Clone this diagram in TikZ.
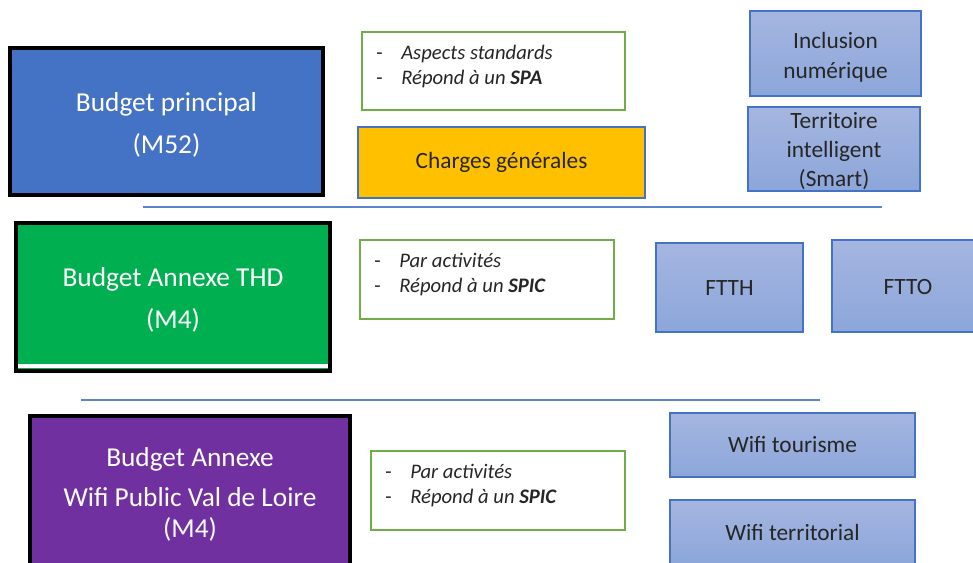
\documentclass[tikz,border=0pt]{standalone}
\usepackage{fontspec}
\setmainfont{Carlito}
\definecolor{bpblue}{HTML}{4472C4}
\definecolor{thdgreen}{HTML}{00B050}
\definecolor{wifipurple}{HTML}{7030A0}
\definecolor{boxgreen}{HTML}{70AD47}
\definecolor{chgold}{HTML}{FFC000}
\definecolor{lbtop}{HTML}{A5B6E0}
\definecolor{lbbot}{HTML}{8CA6DA}
\definecolor{txtdark}{HTML}{262626}
\definecolor{sepblue}{HTML}{5B84CC}
\tikzset{
  budget/.style={draw=black, line width=2.4pt},
  budgettext/.style={text=white, align=center, inner sep=0pt,
    font=\fontsize{20.5}{31.5}\selectfont},
  infobox/.style={draw=boxgreen, line width=1.8pt, fill=white},
  infotext/.style={anchor=north west, inner sep=0pt, text=txtdark,
    font=\fontsize{15.5}{18.75}\selectfont},
  lightbox/.style={draw=bpblue, line width=1.8pt, top color=lbtop, bottom color=lbbot},
  lighttext/.style={text=txtdark, align=center, inner sep=0pt,
    font=\fontsize{17.5}{22.5}\selectfont},
  chbox/.style={draw=bpblue, line width=1.8pt, fill=chgold, text=txtdark,
    font=\fontsize{17.5}{20}\selectfont},
  sepline/.style={draw=sepblue, line width=2pt}
}
\begin{document}
\begin{tikzpicture}[x=0.75pt, y=-0.75pt]
\path[use as bounding box] (0,0) rectangle (973,563);
\clip (0,0) rectangle (973,563);
% Budget principal row
\node[budget, fill=bpblue, minimum width=234.75pt, minimum height=110.25pt] (bp) at (166.5,121.5) {};
\node[budgettext] (bpt) at (166.5,124.5) {Budget principal\\(M52)};
\node[infobox, minimum width=197.25pt, minimum height=58.5pt] (g1) at (493.5,71) {};
\node[infotext] (g1t) at (376,42) {\begin{tabular}{@{}l@{\hspace{14pt}}l@{}}-&\textit{Aspects standards}\\-&\textit{Répond à un \textbf{SPA}}\end{tabular}};
\node[chbox, minimum width=215.25pt, minimum height=53.25pt] (cg) at (501.5,162.5) {Charges générales};
\node[lightbox, minimum width=128.25pt, minimum height=63.75pt] (inc) at (835.5,53.5) {};
\node[lighttext] (inct) at (835.5,57) {Inclusion\\numérique};
\node[lightbox, minimum width=129pt, minimum height=63pt] (ter) at (834,149) {};
\node[lighttext, font=\fontsize{17.5}{21.75}\selectfont] (tert) at (834,151) {Territoire\\intelligent\\(Smart)};
\coordinate (l1a) at (143,207);
\coordinate (l1b) at (882,207);
\draw[sepline] (l1a) -- (l1b);
% THD row
\node[budget, fill=thdgreen, minimum width=235.5pt, minimum height=111pt] (thd) at (173,297) {};
\fill[white] (18,364) rectangle (328,368);
\node[budgettext] (thdt) at (173,300) {Budget Annexe THD\\(M4)};
\node[infobox, minimum width=190.5pt, minimum height=59.25pt] (g2) at (487,279.5) {};
\node[infotext] (g2t) at (374,250) {\begin{tabular}{@{}l@{\hspace{14pt}}l@{}}-&\textit{Par activités}\\-&\textit{Répond à un \textbf{SPIC}}\end{tabular}};
\node[lightbox, minimum width=110.25pt, minimum height=66.75pt] (ftth) at (729.5,287.5) {};
\node[lighttext] (ftht) at (729.5,288) {FTTH};
\node[lightbox, minimum width=114.75pt, minimum height=69pt] (ftto) at (908.5,286) {};
\node[lighttext] (fttot) at (908,287) {FTTO};
\coordinate (l2a) at (81,400);
\coordinate (l2b) at (820,400);
\draw[sepline] (l2a) -- (l2b);
% Wifi row
\node[budget, fill=wifipurple, minimum width=240pt, minimum height=112.5pt] (wifi) at (190,491) {};
\node[budgettext, font=\fontsize{20.5}{23.25}\selectfont] (wifit) at (190,494) {Budget Annexe\\[6.75pt]Wifi Public Val de Loire\\(M4)};
\node[infobox, minimum width=190.5pt, minimum height=59.25pt] (g3) at (498,490.5) {};
\node[infotext] (g3t) at (385,461) {\begin{tabular}{@{}l@{\hspace{14pt}}l@{}}-&\textit{Par activités}\\-&\textit{Répond à un \textbf{SPIC}}\end{tabular}};
\node[lightbox, minimum width=183.75pt, minimum height=48pt] (wt) at (792.5,445) {};
\node[lighttext] (wtt) at (792.5,445) {Wifi tourisme};
\node[lightbox, minimum width=183.75pt, minimum height=48pt] (wterr) at (792.5,532) {};
\node[lighttext] (wterrt) at (792.5,532) {Wifi territorial};
\end{tikzpicture}
\end{document}
